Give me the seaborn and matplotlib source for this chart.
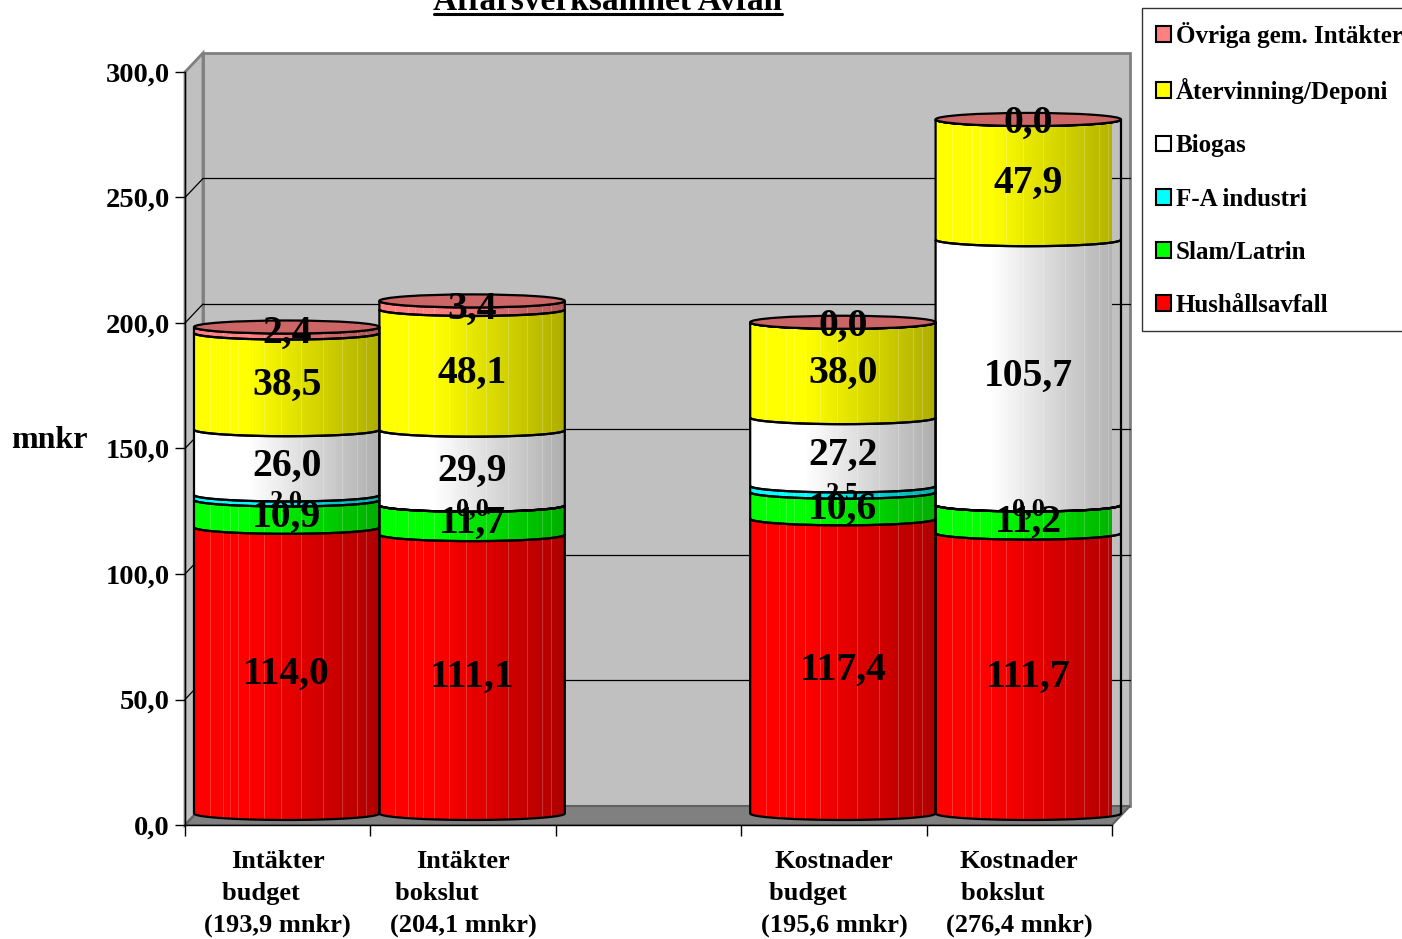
import numpy as np
import pandas as pd
import seaborn as sns
import matplotlib
matplotlib.use("Agg")
from matplotlib import pyplot as plt
from matplotlib.patches import Polygon, PathPatch, Ellipse, Patch
from matplotlib.path import Path
from matplotlib.lines import Line2D

# --- data -------------------------------------------------------------------
categories = ["Intäkter budget", "Intäkter bokslut", "Kostnader budget", "Kostnader bokslut"]
slot_order = ["Intäkter budget", "Intäkter bokslut", "", "Kostnader budget", "Kostnader bokslut"]
tick_labels = [
    "Intäkter\nbudget     \n(193,9 mnkr)",
    "Intäkter\nbokslut        \n(204,1 mnkr)",
    "Kostnader\nbudget        \n(195,6 mnkr)",
    "Kostnader\nbokslut     \n(276,4 mnkr)",
]
series_names = ["Hushållsavfall", "Slam/Latrin", "F-A industri", "Biogas",
                "Återvinning/Deponi", "Övriga gem. Intäkter"]
hushall = [114.0, 111.1, 117.4, 111.7]
slam = [10.9, 11.7, 10.6, 11.2]
fa_industri = [2.0, 0.0, 2.5, 0.0]
biogas = [26.0, 29.9, 27.2, 105.7]
atervinning = [38.5, 48.1, 38.0, 47.9]
ovriga = [2.4, 3.4, 0.0, 0.0]
series_values = [hushall, slam, fa_industri, biogas, atervinning, ovriga]
series_colors = ["#ff0000", "#00ff00", "#00ffff", "#ffffff", "#ffff00", "#ff8080"]
yticks = [0, 50, 100, 150, 200, 250, 300]

# --- style ------------------------------------------------------------------
sns.set_theme(style="white")
plt.rcParams["font.family"] = ["Liberation Serif", "DejaVu Serif"]
plt.rcParams["font.weight"] = "bold"
for k in ["text.color", "axes.labelcolor", "xtick.color", "ytick.color"]:
    plt.rcParams[k] = "black"

fig = plt.figure(figsize=(14.02, 9.39), dpi=100)
ax = fig.add_axes([185 / 1402, 1 - 825 / 939, 927 / 1402, 753 / 939])
ax.patch.set_visible(False)

DX = 0.097   # depth offset, x (category units)
DY = 7.57    # depth offset, y (data units)
BASE = 4.6
EH = 2.6     # half height of ellipses

# stacked bars via seaborn (cumulative), read geometry back afterwards
cum = np.cumsum(np.array(series_values), axis=0)
geoms = []
for i in range(len(series_names)):
    df = pd.DataFrame({"cat": categories, "top": cum[i]})
    sns.barplot(data=df, x="cat", y="top", order=slot_order, color=series_colors[i],
                width=1.0, errorbar=None, ax=ax)
    cont = ax.containers[-1]
    geoms.append([(p.get_x(), p.get_width()) for p in cont.patches])
    for p in cont.patches:
        p.set_visible(False)

xmin, xmax = -0.5, len(slot_order) - 0.5

# --- 3D box -----------------------------------------------------------------
wall = "#c0c0c0"
edge = "#808080"
ax.add_patch(Polygon([(xmin + DX, DY), (xmax + DX, DY), (xmax + DX, 300 + DY), (xmin + DX, 300 + DY)],
                     closed=True, fc=wall, ec=edge, lw=2, clip_on=False, zorder=0))
ax.add_patch(Polygon([(xmin, 0), (xmin + DX, DY), (xmin + DX, 300 + DY), (xmin, 300)],
                     closed=True, fc=wall, ec=edge, lw=2, clip_on=False, zorder=0))
ax.add_patch(Polygon([(xmin, 0), (xmax, 0), (xmax + DX, DY), (xmin + DX, DY)],
                     closed=True, fc="#808080", ec="#606060", lw=1.5, clip_on=False, zorder=0.2))
for v in yticks[1:-1]:
    ax.plot([xmin + DX, xmax + DX], [v + DY, v + DY], color="black", lw=0.9, zorder=0.5, clip_on=False)
    ax.plot([xmin, xmin + DX], [v, v + DY], color="black", lw=0.9, zorder=0.5, clip_on=False)


def shade_image(rgb, n=240):
    xs = np.linspace(0, 1, n)
    f = np.where(xs < 0.3, 1.0, 1.0 - 0.32 * (xs - 0.3) / 0.7)
    arr = np.clip(np.array(rgb)[None, :] * f[:, None], 0, 1)
    for s in [0.05, 0.09, 0.12, 0.16, 0.2, 0.24, 0.3, 0.38, 0.47, 0.58, 0.7, 0.8, 0.88, 0.93]:
        k = int(s * (n - 1))
        arr[k] = arr[k] * 0.8 + 0.2
    return arr[None, :, :]


def arc(c, w, y, n=60):
    t = np.linspace(np.pi, 2 * np.pi, n)
    return np.column_stack([c + w / 2 * np.cos(t), y + EH * np.sin(t)])


for j in range(len(categories)):
    for i, name in enumerate(series_names):
        x0, w = geoms[i][j]
        c = x0 + w / 2 + DX / 2
        y0 = BASE + (cum[i - 1][j] if i > 0 else 0.0)
        y1 = BASE + cum[i][j]
        lower = arc(c, w, y0)
        upper = arc(c, w, y1)[::-1]
        verts = np.vstack([lower, upper, lower[:1]])
        path = Path(verts, closed=True)
        rgb = matplotlib.colors.to_rgb(series_colors[i])
        outline = PathPatch(path, fc="none", ec="black", lw=1.6, zorder=3, clip_on=False)
        im = ax.imshow(shade_image(rgb), extent=(c - w / 2, c + w / 2, y0 - EH, y1),
                       aspect="auto", zorder=2, interpolation="nearest")
        clip = PathPatch(path, transform=ax.transData)
        im.set_clip_path(clip)
        ax.add_patch(outline)
    # lid
    top_rgb = np.array(matplotlib.colors.to_rgb(series_colors[-1])) * 0.8
    ax.add_patch(Ellipse((c, BASE + cum[-1][j]), w, 2 * EH, fc=top_rgb, ec="black",
                         lw=1.6, zorder=3.5, clip_on=False))
    # value labels
    for i in range(len(series_names)):
        v = series_values[i][j]
        ymid = BASE + cum[i][j] - v / 2 - 1.5
        size = 19 if i == 2 else 28.5
        ax.text(c, ymid, f"{v:.1f}".replace(".", ","), ha="center", va="center",
                fontsize=size, fontweight="bold", color="black", zorder=5)

ax.set_xlim(xmin, xmax)
ax.set_ylim(0, 300)

# --- axes -------------------------------------------------------------------
for s in ["top", "right"]:
    ax.spines[s].set_visible(False)
ax.spines["left"].set_color("black")
ax.spines["bottom"].set_color("black")
ax.spines["left"].set_linewidth(1)
ax.spines["bottom"].set_linewidth(1)
ax.spines["left"].set_zorder(1)

ax.set_yticks(yticks)
ax.set_yticklabels([f"{v:.1f}".replace(".", ",") for v in yticks], fontsize=20.5, fontweight="bold")
ax.tick_params(axis="y", direction="out", length=7, width=1, color="black", pad=4, left=True)

ax.set_xticks(np.arange(xmin, xmax + 0.01, 1.0))
ax.set_xticklabels([])
ax.tick_params(axis="x", which="major", direction="out", length=8, width=1, color="black", bottom=True)
ax.set_xticks([0, 1, 3, 4], minor=True)
ax.set_xticklabels(tick_labels, minor=True, fontsize=19, fontweight="bold", linespacing=1.5)
ax.tick_params(axis="x", which="minor", length=0, pad=18)
ax.set_xlabel("")

ax.set_ylabel("mnkr", rotation=0, fontsize=23, fontweight="bold", ha="center", va="center")
ax.yaxis.set_label_coords(-0.1467, 0.511)

# --- title ------------------------------------------------------------------
fig.text(608 / 1402, 1 - 10 / 939, "Affärsverksamhet Avfall", ha="center", va="baseline",
         fontsize=24, fontweight="bold")
fig.add_artist(Line2D([434 / 1402, 782 / 1402], [1 - 14 / 939, 1 - 14 / 939],
                      color="black", lw=2.2, transform=fig.transFigure))

# --- legend -----------------------------------------------------------------
handles = [Patch(fc=series_colors[i], ec="black", lw=1.5) for i in range(len(series_names))][::-1]
leg = fig.legend(handles, series_names[::-1], loc="upper left",
                 bbox_to_anchor=(1142 / 1402, 1 - 8 / 939), frameon=True, fancybox=False,
                 edgecolor="black", borderaxespad=0, borderpad=0.55, handlelength=0.6,
                 handleheight=0.6, handletextpad=0.2, labelspacing=1.21,
                 prop={"size": 18, "weight": "bold", "family": ["Liberation Serif"]})
leg.get_frame().set_linewidth(1.0)
leg.get_frame().set_facecolor("white")

fig.savefig("out.png", dpi=100)
